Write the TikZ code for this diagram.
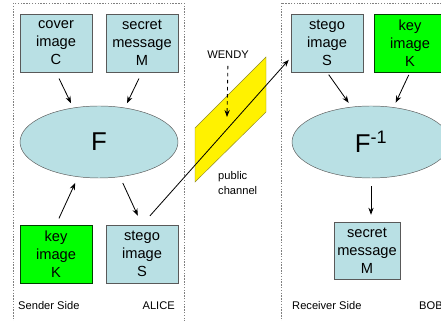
\documentclass[tikz,border=0pt]{standalone}
\usepackage{fontspec}
\setmainfont{Liberation Sans}
\usetikzlibrary{shapes.geometric,arrows.meta,calc}
\definecolor{stegoblue}{RGB}{185,224,228}
\definecolor{keygreen}{RGB}{0,255,0}
\tikzset{imgbox/.style = {draw=gray!70!black, fill=stegoblue, minimum width=2.16cm, minimum height=1.74cm,
                          inner sep=0pt, align=center, font=\fontsize{12.5}{15.3}\selectfont},
         keybox/.style = {imgbox, fill=keygreen, draw=green!25!black},
         func/.style = {ellipse, draw=gray!70!black, fill=stegoblue, minimum width=4.74cm, minimum height=2.16cm,
                        inner sep=0pt, font=\fontsize{22}{24}\selectfont},
         side/.style = {inner sep=0pt, font=\fontsize{9.5}{12.75}\selectfont},
         flow/.style = {-{Stealth[length=6pt,width=4.5pt]}, line width=0.7pt},
         zone/.style = {draw=gray, line width=0.5pt, dash pattern=on 1.2pt off 1.2pt}}

\begin{document}
\begin{tikzpicture}[x=0.03cm,y=-0.03cm]
\useasboundingbox (0,0) rectangle (441,321);
\clip (0,0) rectangle (441,321);
% the two sides
\draw[zone] (13,3) rectangle (184,330);
\draw[zone] (281,3) rectangle (470,330);
% sender
\node[imgbox] (cover) at (56,43) {cover\\image\\C};
\node[imgbox] (secret) at (142,43) {secret\\message\\M};
\node[func] (F) at (99,142) {F};
\node[keybox] (key) at (56,254) {key\\image\\K};
\node[imgbox] (stego) at (142,254) {stego\\image\\S};
\node[side, anchor=base west] (sender) at (18,310) {Sender Side};
\node[side, anchor=base east] (alice) at (175,310) {ALICE};
% public channel
\draw[draw=olive!70!gray, fill=yellow] (195,128) -- (266,57) -- (266,112) -- (195,182) -- cycle;
\node[side, anchor=base] (wendy) at (228,59) {WENDY};
\coordinate (tap) at (227,117);
\node[side, anchor=north west, align=left] (public) at (218,171) {public\\channel};
% receiver
\node[imgbox] (rstego) at (327,43) {stego\\image\\S};
\node[keybox] (rkey) at (410,43) {key\\image\\K};
\node[func] (Finv) at (371,142) {F\textsuperscript{-1}};
\node[imgbox, minimum width=1.98cm, minimum height=1.71cm] (rsecret) at (367,250.5) {secret\\message\\M};
\node[side, anchor=base west] (receiver) at (292,310) {Receiver Side};
\node[side, anchor=base west] (bob) at (419,310) {BOB};
% arrows
\draw[flow, shorten <=0.21cm, shorten >=0.15cm] (cover.south) -- (F.127);
\draw[flow, shorten <=0.21cm, shorten >=0.15cm] (secret.south) -- (F.53);
\draw[flow, shorten <=0.21cm, shorten >=0.2cm] (key.north) -- (F.-121);
\draw[flow, shorten <=0.2cm, shorten >=0.3cm] (F.-59) -- (stego.north);
\draw[flow, shorten <=0.36cm, shorten >=0.09cm] (stego.north) -- ($(rstego.south west)!0.25!(rstego.north west)$);
\draw[flow, dashed, shorten <=0.2cm] (wendy.south) -- (tap);
\draw[flow, shorten <=0.09cm, shorten >=0.15cm] (rstego.south) -- (Finv.119);
\draw[flow, shorten <=0.09cm, shorten >=0.15cm] (rkey.south) -- (Finv.57);
\draw[flow, shorten <=0.24cm, shorten >=0.21cm] (Finv.south) -- (Finv.south |- rsecret.north);
\end{tikzpicture}
\end{document}
